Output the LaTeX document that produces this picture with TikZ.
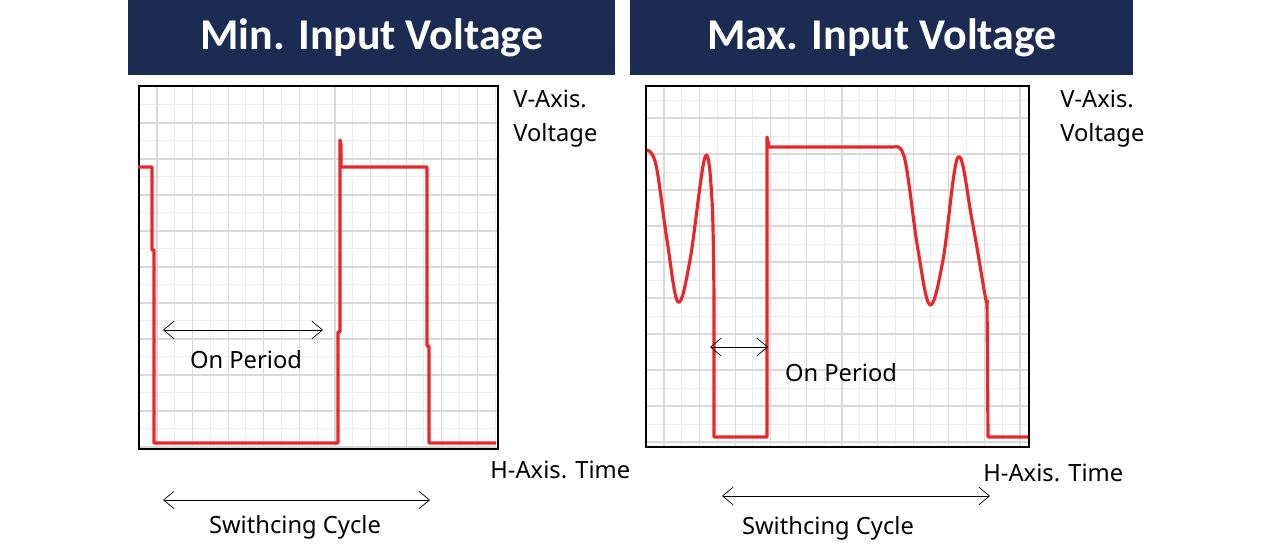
\documentclass[tikz,border=0pt]{standalone}
\usepackage{fontspec}
\setmainfont{Noto Sans}
\newfontfamily\headfont{Carlito}
\usepackage{tikz}
\usetikzlibrary{positioning, arrows.meta}
\definecolor{navy}{HTML}{1C2B52}
\definecolor{wave}{HTML}{E8262B}
\tikzset{
  header/.style={fill=navy, text=white, font=\headfont\bfseries\fontsize{25}{28}\selectfont, inner sep=0pt},
  label/.style={font=\fontsize{13.5}{16}\selectfont, inner sep=0pt},
  span/.style={<->, >={Straight Barb[length=6pt,width=10pt]}, thin},
  trace/.style={wave, line width=1.8pt, line join=round},
  minor/.style={gray!15, line width=0.5pt},
  major/.style={gray!30, line width=0.7pt},
}
\begin{document}
\begin{tikzpicture}[x=0.02cm, y=-0.02cm]
\useasboundingbox (0,0) rectangle (1284,546);
% headers
\node[header, minimum width=487*0.02cm, minimum height=75*0.02cm, anchor=north west] (hmin) at (128,0) {Min. Input Voltage};
\node[header, minimum width=503*0.02cm, minimum height=75*0.02cm, anchor=north west] (hmax) at (630,0) {Max. Input Voltage};
% left scope grid
\begin{scope}
  \clip (138,85) rectangle (497,448);
  \foreach \x in {0,...,22} \draw[minor] (139+\x*17.8,85) -- ++(0,363);
  \foreach \y in {0,...,22} \draw[minor] (138,104+\y*18) -- ++(359,0);
  \foreach \x in {0,...,10} \draw[major] (157+\x*35.6,85) -- ++(0,363);
  \foreach \y in {0,...,10} \draw[major] (138,123+\y*36) -- ++(359,0);
\end{scope}
\node[draw, line width=1pt, minimum width=359*0.02cm, minimum height=363*0.02cm, anchor=north west, inner sep=0pt] (plotmin) at (138,85) {};
\draw[trace] (138,167) -- (152,167) -- (152,250) -- (154,250) -- (154,443) -- (338,443) -- (338,332) -- (340,332) -- (340,140) -- (341,145) -- (341,167) -- (427,167) -- (427,346) -- (429,346) -- (429,443) -- (496,443);
% right scope grid
\begin{scope}
  \clip (645,85) rectangle (1028,446);
  \foreach \x in {0,...,23} \draw[minor] (646+\x*17.8,85) -- ++(0,361);
  \foreach \y in {0,...,22} \draw[minor] (645,100+\y*18) -- ++(383,0);
  \foreach \x in {0,...,11} \draw[major] (664+\x*35.6,85) -- ++(0,361);
  \foreach \y in {0,...,10} \draw[major] (645,118+\y*36) -- ++(383,0);
\end{scope}
\node[draw, line width=1pt, minimum width=383*0.02cm, minimum height=361*0.02cm, anchor=north west, inner sep=0pt] (plotmax) at (645,85) {};
\draw[trace] plot[smooth, tension=0.6] coordinates {(647,150) (656,165) (667,240) (678,302) (690,260) (705,157) (712,200) (714,300)};
\draw[trace] (714,300) -- (714,437) -- (767,437) -- (767,137) -- (769,147) -- (895,147);
\draw[trace] plot[smooth, tension=0.6] coordinates {(895,147) (905,160) (918,250) (930,305) (943,260) (958,157) (972,220) (985,295) (987,300)};
\draw[trace] (987,300) -- (988,437) -- (1028,437);
% axis labels
\node[label, align=left, anchor=north west] (vmin) at (513,90) {V-Axis.\\[3pt]Voltage};
\node[label, align=left, anchor=north west] (vmax) at (1060,90) {V-Axis.\\[3pt]Voltage};
\node[label, anchor=west] (tmin) at (490,470) {H-Axis. Time};
\node[label, anchor=west] (tmax) at (983,473) {H-Axis. Time};
% periods
\coordinate (onA) at (163,330); \coordinate (onB) at (323,330);
\draw[span] (onA) -- (onB);
\node[label] (onmin) at (246,360) {On Period};
\coordinate (onC) at (710,347); \coordinate (onD) at (768,347);
\draw[span] (onC) -- (onD);
\node[label] (onmax) at (841,373) {On Period};
\coordinate (cyA) at (163,500); \coordinate (cyB) at (430,500);
\draw[span] (cyA) -- (cyB);
\node[label] (cymin) at (295,527) {Swithcing Cycle};
\coordinate (cyC) at (722,496); \coordinate (cyD) at (990,496);
\draw[span] (cyC) -- (cyD);
\node[label] (cymax) at (828,528) {Swithcing Cycle};
\end{tikzpicture}
\end{document}
